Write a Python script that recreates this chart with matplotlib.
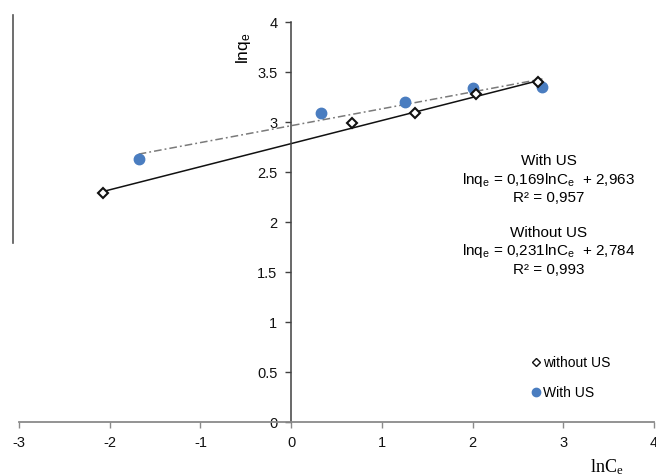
import matplotlib
matplotlib.use("Agg")
import matplotlib.pyplot as plt
from matplotlib.lines import Line2D
import numpy as np

plt.rcParams['font.family'] = ['Liberation Sans', 'DejaVu Sans']
plt.rcParams['mathtext.default'] = 'regular'

# Freundlich isotherm data (ln Ce vs ln qe)
lnCe_without = [-2.07, 0.67, 1.37, 2.04, 2.72]
lnqe_without = [2.29, 2.99, 3.09, 3.28, 3.40]
lnCe_with = [-1.68, 0.33, 1.26, 2.00, 2.77]
lnqe_with = [2.63, 3.09, 3.20, 3.34, 3.35]

# Linear fits
slope_with, icpt_with, r2_with = 0.169, 2.963, 0.957
slope_without, icpt_without, r2_without = 0.231, 2.784, 0.993

xticks = [-3, -2, -1, 0, 1, 2, 3, 4]
yticks = [0, 0.5, 1, 1.5, 2, 2.5, 3, 3.5, 4]

W, H = 656, 476
fig = plt.figure(figsize=(W / 100, H / 100), dpi=100)
ax = fig.add_axes([19/W, (H-422)/H, (654-19)/W, 400/H])
ax.set_xlim(-3, 4)
ax.set_ylim(0, 4)

for side in ('top', 'right'):
    ax.spines[side].set_visible(False)
ax.spines['left'].set_position(('data', 0))
ax.spines['bottom'].set_position(('data', 0))
ax.spines['left'].set_color('#404040')
ax.spines['bottom'].set_color('#8a8a8a')
ax.spines['left'].set_linewidth(1.1)
ax.spines['bottom'].set_linewidth(1.3)

ax.set_xticks(xticks)
ax.set_yticks(yticks)
ax.set_xticklabels([f"{t:g}" for t in xticks])
ax.set_yticklabels([f"{t:g}" for t in yticks])
ax.tick_params(axis='x', direction='out', length=4, width=1, color='#8a8a8a',
               labelsize=10.5, pad=6, labelcolor='#111111')
ax.tick_params(axis='y', direction='out', length=4, width=1, color='#404040',
               labelsize=10.5, pad=6, labelcolor='#111111')

# Trend lines over the range of each series
xw = np.array([min(lnCe_with), max(lnCe_with)])
ax.plot(xw, slope_with * xw + icpt_with, color='#7a7a7a', lw=1.1,
        linestyle=(0, (5, 2, 1.2, 2)), zorder=2)
xo = np.array([min(lnCe_without), max(lnCe_without)])
ax.plot(xo, slope_without * xo + icpt_without, color='#111111', lw=1.1, zorder=2)

ax.plot(lnCe_with, lnqe_with, linestyle='none', marker='o', markersize=7.5,
        color='#4a7dc0', markeredgecolor='#4a7dc0', zorder=3)
ax.plot(lnCe_without, lnqe_without, linestyle='none', marker='D', markersize=5,
        markerfacecolor='white', markeredgecolor='#111111', markeredgewidth=1.5,
        zorder=4)


def fmt(v):
    return f"{v:.3f}".replace('.', ',')


# Fit equations
tx = 2.84
ax.text(tx, 2.61, "With US", ha='center', va='center', fontsize=11)
ax.text(tx, 2.42, f"lnq$_e$ = {fmt(slope_with)}lnC$_e$  + {fmt(icpt_with)}",
        ha='center', va='center', fontsize=11)
ax.text(tx, 2.24, f"R² = {fmt(r2_with)}", ha='center', va='center', fontsize=11)
ax.text(tx, 1.89, "Without US", ha='center', va='center', fontsize=11)
ax.text(tx, 1.71, f"lnq$_e$ = {fmt(slope_without)}lnC$_e$  + {fmt(icpt_without)}",
        ha='center', va='center', fontsize=11)
ax.text(tx, 1.52, f"R² = {fmt(r2_without)}", ha='center', va='center', fontsize=11)

# Axis titles
ax.text(-0.53, 3.74, "lnq$_e$", rotation=90, ha='center', va='center',
        fontsize=12.5)
ax.text(3.48, -0.45, "lnC$_e$", ha='center', va='center', fontsize=13,
        family='Liberation Serif', clip_on=False)

handles = [
    Line2D([], [], linestyle='none', marker='D', markersize=4.5,
           markerfacecolor='white', markeredgecolor='#111111', markeredgewidth=1.0),
    Line2D([], [], linestyle='none', marker='o', markersize=6,
           color='#4a7dc0'),
]
ax.legend(handles, ['without US', 'With US'], loc='upper left',
          bbox_to_anchor=(532/W, 1 - 356/H), bbox_transform=fig.transFigure,
          frameon=False, fontsize=10, handlelength=0.6, handletextpad=0.2,
          labelspacing=1.12, borderpad=0, borderaxespad=0)

# Left border rule
fig.add_artist(Line2D([13/W, 13/W], [1 - 15/H, 1 - 243/H],
                      transform=fig.transFigure, color='#555555', lw=1.2))

fig.savefig("out.png", dpi=100)
